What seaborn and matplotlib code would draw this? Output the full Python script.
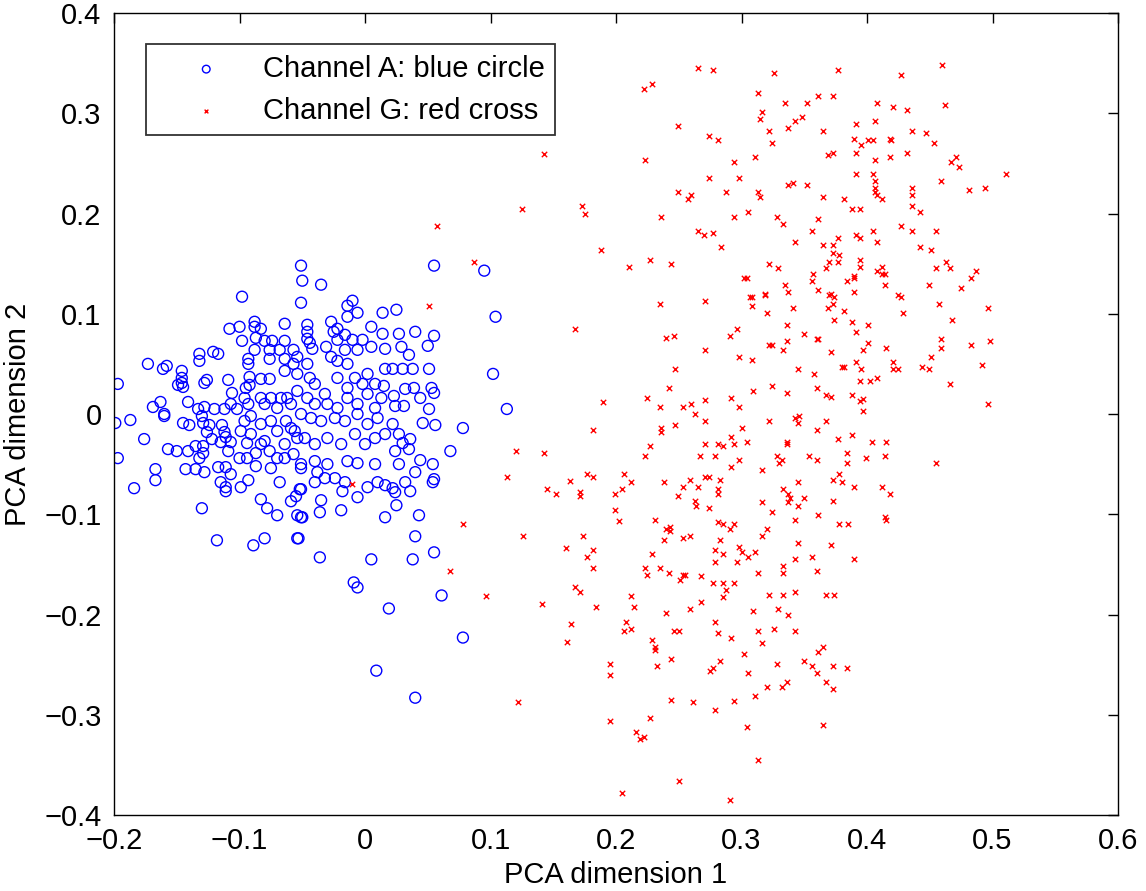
import numpy as np
import pandas as pd
import matplotlib
matplotlib.use("Agg")
import matplotlib.pyplot as plt
import seaborn as sns

# ---------------- data ----------------
channel_a_points = [
    (-.098, .117), (-.051, .148), (-.050, .133), (-.051, .111), (-.197, .030), (-.173, .050),
    (-.161, .045), (-.158, .048), (-.146, .043), (-.146, .036), (-.146, .031), (-.132, .060),
    (-.132, .053), (-.121, .062), (-.117, .060), (-.108, .085), (-.100, .087), (-.088, .092),
    (-.088, .087), (-.083, .085), (-.064, .090), (-.098, .073), (-.087, .076), (-.080, .073),
    (-.074, .073), (-.064, .073), (-.093, .055), (-.093, .050), (-.088, .064), (-.076, .064),
    (-.068, .064), (-.076, .055), (-.064, .055), (-.057, .064), (-.057, .050), (-.064, .043),
    (-.126, .034), (-.128, .031), (-.149, .029), (-.145, .027), (-.109, .034), (-.092, .037),
    (-.092, .029), (-.083, .035), (-.076, .035), (-.106, .021), (-.095, .026), (-.169, .007),
    (-.163, .012), (-.160, .000), (-.160, -.002), (-.141, .012), (-.133, .005), (-.128, .007),
    (-.130, -.002), (-.120, .005), (-.107, .010), (-.112, .005), (-.102, .005), (-.096, .016),
    (-.093, .010), (-.083, .016), (-.080, .010), (-.075, .016), (-.067, .016), (-.062, .016),
    (-.059, .010), (-.070, .006), (-.199, -.009), (-.187, -.006), (-.197, -.044), (-.176, -.025),
    (-.184, -.074), (-.167, -.055), (-.167, -.066), (-.157, -.035), (-.150, -.037), (-.141, -.037),
    (-.145, -.009), (-.140, -.011), (-.143, -.055), (-.135, -.055), (-.128, -.058), (-.135, -.032),
    (-.129, -.032), (-.132, -.044), (-.129, -.039), (-.129, -.009), (-.124, -.011), (-.126, -.018),
    (-.122, -.025), (-.115, -.028), (-.107, -.028), (-.109, -.037), (-.114, -.011), (-.112, -.018),
    (-.111, -.023), (-.117, -.053), (-.111, -.053), (-.107, -.060), (-.115, -.068), (-.111, -.073),
    (-.111, -.077), (-.130, -.094), (-.118, -.126), (-.099, -.073), (-.093, -.066), (-.083, -.085),
    (-.078, -.094), (-.070, -.101), (-.089, -.131), (-.080, -.124), (-.068, -.068), (-.059, -.087),
    (-.055, -.082), (-.051, -.075), (-.054, -.124), (-.051, -.103), (-.100, -.044), (-.094, -.044),
    (-.087, -.039), (-.083, -.030), (-.076, -.037), (-.070, -.044), (-.064, -.044), (-.087, -.052),
    (-.075, -.054), (-.096, -.007), (-.091, -.002), (-.099, -.017), (-.091, -.020), (-.083, -.010),
    (-.075, -.007), (-.070, -.017), (-.063, -.007), (-.059, -.014), (-.054, -.024), (-.080, -.027),
    (-.064, -.030), (-.057, -.040), (-.051, -.054), (-.094, -.029), (-.035, .129), (.104, .097),
    (.102, .040), (-.010, .113), (-.014, .108), (-.006, .101), (-.014, .097), (-.022, .085),
    (-.027, .092), (.014, .101), (.025, .104), (.005, .087), (.014, .080), (.027, .080),
    (.040, .082), (.055, .078), (.050, .068), (-.046, .089), (-.046, .082), (-.046, .075),
    (-.044, .071), (-.042, .065), (-.025, .082), (-.016, .079), (-.022, .074), (-.010, .074),
    (-.002, .074), (.005, .067), (-.006, .064), (-.016, .064), (-.031, .067), (-.027, .057),
    (.016, .065), (.029, .067), (.035, .059), (.016, .045), (.022, .045), (.030, .045),
    (.038, .045), (.051, .045), (-.054, .057), (-.046, .050), (-.054, .040), (-.044, .036),
    (-.040, .030), (-.022, .053), (-.014, .050), (-.022, .036), (-.008, .036), (.002, .040),
    (-.002, .030), (-.014, .026), (.008, .030), (.015, .028), (.023, .018), (.032, .025),
    (.039, .026), (.044, .016), (.053, .026), (.055, .021), (-.054, .023), (-.046, .016),
    (-.040, .010), (-.032, .020), (-.030, .010), (-.022, .006), (-.014, .016), (-.006, .010),
    (.002, .020), (.008, .006), (.013, .016), (.024, .008), (.031, .008), (.051, .005),
    (-.051, .000), (-.043, -.004), (-.035, -.007), (-.024, -.004), (-.016, -.007), (-.006, .000),
    (.002, -.010), (.010, -.004), (.022, -.010), (.046, -.009), (.056, -.011), (.078, -.014),
    (-.056, -.017), (-.048, -.024), (-.040, -.030), (-.030, -.024), (-.019, -.030), (-.008, -.020),
    (.000, -.030), (.008, -.024), (.016, -.020), (.027, -.020), (.030, -.029), (.036, -.025),
    (.035, -.035), (.024, -.037), (.044, -.046), (.054, -.050), (.068, -.037), (-.051, -.050),
    (-.040, -.047), (-.038, -.058), (-.030, -.050), (-.040, -.068), (-.032, -.064), (-.024, -.064),
    (-.016, -.068), (-.014, -.047), (-.006, -.049), (.008, -.050), (.027, -.050), (.040, -.058),
    (.002, -.073), (.010, -.068), (.016, -.071), (.022, -.074), (.024, -.078), (.032, -.068),
    (.036, -.077), (.054, -.068), (.055, -.065), (-.018, -.077), (-.006, -.083), (-.052, -.075),
    (-.054, -.101), (-.050, -.103), (-.035, -.086), (-.036, -.098), (-.019, -.096), (.016, -.103),
    (.025, -.091), (.043, -.101), (-.053, -.124), (-.036, -.143), (.005, -.145), (.040, -.122),
    (.038, -.145), (.055, -.138), (-.009, -.168), (-.006, -.173), (.019, -.194), (.009, -.256),
    (.040, -.283), (.055, .148), (.095, .143), (.061, -.181), (.078, -.223), (.113, .005),
]

channel_g_points = [
    (.265, .345), (.277, .343), (.326, .340), (.377, .343), (.427, .338), (.460, .348),
    (.313, .320), (.335, .310), (.352, .310), (.361, .317), (.373, .317), (.408, .310),
    (.421, .306), (.432, .303), (.462, .308), (.316, .301), (.315, .294), (.348, .296),
    (.343, .292), (.337, .285), (.322, .282), (.324, .270), (.365, .282), (.391, .289),
    (.406, .292), (.436, .282), (.447, .280), (.453, .270), (.274, .277), (.281, .273),
    (.390, .274), (.395, .268), (.401, .273), (.405, .273), (.418, .274), (.419, .273),
    (.391, .260), (.406, .253), (.418, .256), (.432, .260), (.369, .258), (.373, .260),
    (.311, .256), (.294, .251), (.467, .251), (.471, .256), (.473, .246), (.274, .235),
    (.298, .235), (.391, .239), (.405, .239), (.406, .232), (.406, .225), (.406, .221),
    (.408, .218), (.412, .214), (.459, .232), (.511, .239), (.481, .223), (.494, .225),
    (.436, .225), (.436, .218), (.436, .207), (.442, .202), (.337, .228), (.341, .230),
    (.352, .228), (.288, .221), (.313, .221), (.315, .216), (.365, .216), (.382, .214),
    (.388, .204), (.394, .204), (.294, .197), (.305, .202), (.328, .197), (.333, .190),
    (.361, .195), (.356, .183), (.265, .183), (.270, .179), (.277, .181), (.284, .167),
    (.343, .172), (.365, .169), (.373, .169), (.377, .176), (.373, .161), (.378, .159),
    (.391, .179), (.394, .176), (.405, .183), (.408, .172), (.427, .188), (.436, .183),
    (.455, .183), (.442, .167), (.451, .164), (.463, .152), (.466, .146), (.455, .146),
    (.487, .143), (.483, .136), (.475, .126), (.322, .150), (.329, .146), (.370, .152),
    (.377, .152), (.394, .154), (.394, .147), (.367, .146), (.357, .140), (.356, .133),
    (.390, .138), (.390, .136), (.384, .133), (.408, .143), (.412, .140), (.414, .140),
    (.412, .147), (.414, .129), (.449, .129), (.302, .136), (.304, .136), (.335, .129),
    (.337, .122), (.361, .124), (.370, .119), (.374, .117), (.390, .122), (.425, .119),
    (.427, .117), (.319, .119), (.307, .117),
    (.222, .324), (.229, .329), (.249, .287), (.223, .253), (.143, .259), (.249, .221),
    (.257, .214), (.260, .218), (.236, .197), (.173, .207), (.175, .200), (.125, .204),
    (.057, .188), (.188, .164), (.210, .147), (.227, .154), (.244, .150), (.087, .152),
    (.051, .108), (.167, .085), (.235, .110), (.240, .076), (.246, .078), (.247, .045),
    (.242, .026), (.225, .016), (.235, .007), (.253, .007), (.260, .010), (.263, .000),
    (.190, .012), (.182, -.016), (.236, -.014), (.236, -.018), (.247, -.011), (.227, -.032),
    (.223, -.042), (.120, -.037), (.143, -.039), (.113, -.063), (.163, -.067), (.177, -.060),
    (.182, -.063), (.145, -.075), (.152, -.080), (.171, -.078), (.171, -.082), (.206, -.060),
    (.212, -.068), (.205, -.075), (.199, -.080), (.238, -.068), (.253, -.073), (.259, -.066),
    (.249, -.082), (.263, -.087), (.264, -.092), (.199, -.096), (.202, -.107), (.231, -.106),
    (.240, -.115), (.243, -.113), (.243, -.117), (.238, -.126), (.253, -.124), (.259, -.122),
    (.078, -.110), (.126, -.122), (.174, -.122), (.160, -.134), (.182, -.136), (.177, -.143),
    (.229, -.140),
    (.271, .113), (.308, .117), (.308, .108), (.319, .120), (.371, .120), (.373, .110),
    (.369, .106), (.457, .110), (.496, .106), (.341, .106), (.320, .101), (.382, .103),
    (.429, .101), (.468, .094), (.374, .094), (.388, .092), (.401, .089), (.336, .089),
    (.296, .085), (.291, .078), (.391, .082), (.350, .080), (.360, .075), (.361, .075),
    (.336, .073), (.322, .069), (.324, .069), (.333, .064), (.271, .064), (.371, .062),
    (.401, .071), (.397, .064), (.415, .066), (.459, .075), (.459, .066), (.483, .069),
    (.498, .073), (.451, .057), (.421, .052), (.421, .045), (.425, .045), (.444, .047),
    (.449, .045), (.492, .049), (.466, .030), (.496, .010), (.298, .057), (.308, .054),
    (.345, .045), (.358, .040), (.380, .047), (.382, .047), (.391, .052), (.395, .045),
    (.394, .033), (.402, .033), (.408, .036), (.388, .019), (.394, .013), (.397, .015),
    (.397, .003), (.367, .019), (.371, .017), (.360, .026), (.336, .021), (.309, .023),
    (.324, .028), (.292, .016), (.271, .014), (.298, .007), (.271, -.007), (.300, -.014),
    (.322, -.007), (.343, -.004), (.346, -.002), (.345, -.009), (.367, -.007), (.360, -.016),
    (.388, -.021), (.377, -.025), (.404, -.028), (.415, -.028), (.292, -.023), (.304, -.028),
    (.294, -.030), (.271, -.030), (.281, -.030), (.285, -.032), (.336, -.028), (.336, -.030),
    (.267, -.042), (.279, -.042), (.298, -.046), (.292, -.053), (.328, -.042), (.332, -.046),
    (.330, -.049), (.354, -.042), (.360, -.046), (.384, -.039), (.384, -.049), (.399, -.044),
    (.414, -.042), (.455, -.049), (.316, -.056), (.271, -.063), (.274, -.063), (.265, -.073),
    (.283, -.066), (.281, -.075), (.281, -.080), (.345, -.068), (.373, -.066), (.378, -.060),
    (.380, -.068), (.390, -.073), (.412, -.073), (.418, -.080), (.333, -.075), (.337, -.080),
    (.339, -.084), (.337, -.088), (.345, -.092), (.350, -.084), (.373, -.087), (.316, -.088),
    (.324, -.098), (.274, -.094), (.361, -.101), (.343, -.106), (.378, -.110), (.385, -.110),
    (.414, -.103), (.415, -.106), (.281, -.108), (.285, -.110), (.294, -.110), (.291, -.115),
    (.320, -.115), (.316, -.122), (.283, -.126), (.345, -.129), (.371, -.131), (.279, -.136),
    (.285, -.140), (.298, -.133), (.300, -.138), (.305, -.143), (.311, -.138), (.343, -.145),
    (.356, -.143), (.390, -.145), (-.010, -.070),
    (.068, -.157), (.096, -.182), (.141, -.190), (.182, -.154), (.167, -.173), (.171, -.178),
    (.184, -.193), (.164, -.209), (.161, -.227), (.212, -.182), (.214, -.193), (.208, -.207),
    (.206, -.216), (.212, -.214), (.223, -.154), (.225, -.161), (.235, -.154), (.242, -.159),
    (.253, -.161), (.255, -.161), (.251, -.166), (.240, -.199), (.259, -.195), (.246, -.216),
    (.250, -.216), (.229, -.225), (.231, -.235), (.231, -.232), (.244, -.244), (.233, -.251),
    (.195, -.249), (.195, -.260), (.122, -.287), (.195, -.306), (.244, -.285), (.261, -.287),
    (.227, -.303), (.216, -.317), (.222, -.322), (.219, -.324), (.250, -.366), (.205, -.378),
    (.279, -.148), (.296, -.148), (.333, -.152), (.333, -.159), (.313, -.159), (.360, -.157),
    (.268, -.162), (.277, -.169), (.285, -.169), (.294, -.169), (.288, -.176), (.285, -.183),
    (.268, -.188), (.322, -.181), (.333, -.181), (.343, -.178), (.367, -.181), (.374, -.181),
    (.309, -.197), (.329, -.195), (.337, -.200), (.279, -.207), (.281, -.218), (.292, -.223),
    (.313, -.216), (.326, -.214), (.343, -.216), (.316, -.228), (.302, -.239), (.365, -.232),
    (.361, -.237), (.283, -.246), (.277, -.253), (.275, -.256), (.305, -.258), (.328, -.249),
    (.350, -.246), (.356, -.251), (.360, -.258), (.373, -.251), (.384, -.253), (.336, -.267),
    (.332, -.272), (.320, -.272), (.367, -.267), (.373, -.274), (.311, -.281), (.294, -.286),
    (.279, -.295), (.304, -.312), (.365, -.310), (.313, -.345), (.291, -.385),
]

x_ticks = [-0.2, -0.1, 0.0, 0.1, 0.2, 0.3, 0.4, 0.5, 0.6]
x_tick_labels = ["\u22120.2", "\u22120.1", "0", "0.1", "0.2", "0.3", "0.4", "0.5", "0.6"]
y_ticks = [-0.4, -0.3, -0.2, -0.1, 0.0, 0.1, 0.2, 0.3, 0.4]
y_tick_labels = ["\u22120.4", "\u22120.3", "\u22120.2", "\u22120.1", "0", "0.1", "0.2", "0.3", "0.4"]
legend_labels = ["Channel A: blue circle", "Channel G: red cross"]
x_label = "PCA dimension 1"
y_label = "PCA dimension 2"

# ---------------- plotting ----------------
sns.set_theme(style="white")
plt.rcParams['font.family'] = ['Liberation Sans', 'DejaVu Sans']
plt.rcParams['text.color'] = 'black'
plt.rcParams['axes.labelcolor'] = 'black'

fig = plt.figure(figsize=(11.46, 8.91), dpi=100)
ax = fig.add_axes([0.0995, 0.0853, 0.8761, 0.9001])

df_a = pd.DataFrame(channel_a_points, columns=["x", "y"])
df_g = pd.DataFrame(channel_g_points, columns=["x", "y"])

sns.scatterplot(data=df_a, x="x", y="y", marker="o", s=62, color="#0000ff",
                facecolor="none", edgecolor="#0000ff", linewidth=1.0,
                label=legend_labels[0], ax=ax, zorder=2)
ax.collections[-1].set_facecolor("none")
sns.scatterplot(data=df_g, x="x", y="y", marker="x", s=15, color="#ff0000",
                linewidth=1.0, label=legend_labels[1], ax=ax, zorder=3)

ax.set_xlim(-0.2, 0.6)
ax.set_ylim(-0.4, 0.4)
ax.set_xticks(x_ticks)
ax.set_xticklabels(x_tick_labels)
ax.set_yticks(y_ticks)
ax.set_yticklabels(y_tick_labels)
ax.tick_params(direction="in", length=7, width=1, top=True, right=True,
               labelsize=21, colors="black")
ax.tick_params(axis="x", pad=9)
ax.tick_params(axis="y", pad=9)
for sp in ax.spines.values():
    sp.set_color("black")
    sp.set_linewidth(1.0)
ax.set_xlabel(x_label, fontsize=21, color="black", labelpad=4)
ax.set_ylabel(y_label, fontsize=21, color="black", labelpad=9)

leg = ax.legend(loc="upper left", bbox_to_anchor=(0.032, 0.961), borderaxespad=0,
                fontsize=21, frameon=True, fancybox=False, edgecolor="black",
                markerscale=0.7, handletextpad=0.25, handlelength=3.4,
                labelspacing=0.48, borderpad=0.36)
leg.get_frame().set_linewidth(1.3)
leg.legend_handles[0].set_facecolor("none")

fig.savefig("out.png", dpi=100)
